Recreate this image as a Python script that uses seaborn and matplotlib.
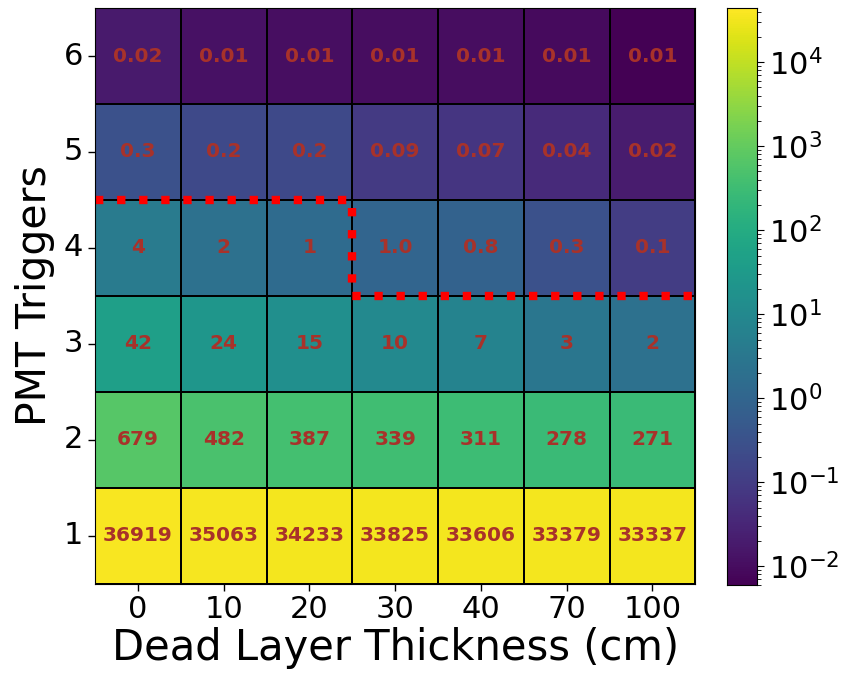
import numpy as np
import pandas as pd
import matplotlib
matplotlib.use("Agg")
import matplotlib.pyplot as plt
import seaborn as sns
from matplotlib.colors import LogNorm

# Data
thickness = ["0", "10", "20", "30", "40", "70", "100"]
triggers = ["6", "5", "4", "3", "2", "1"]

row6 = [0.018, 0.012, 0.011, 0.010, 0.010, 0.009, 0.006]
row5 = [0.3, 0.2, 0.2, 0.09, 0.07, 0.04, 0.02]
row4 = [4, 2, 1.4, 1.0, 0.8, 0.3, 0.1]
row3 = [42, 24, 15, 10, 7, 3, 2]
row2 = [679, 482, 387, 339, 311, 278, 271]
row1 = [36919, 35063, 34233, 33825, 33606, 33379, 33337]

labels6 = ["0.02", "0.01", "0.01", "0.01", "0.01", "0.01", "0.01"]
labels5 = ["0.3", "0.2", "0.2", "0.09", "0.07", "0.04", "0.02"]
labels4 = ["4", "2", "1", "1.0", "0.8", "0.3", "0.1"]
labels3 = ["42", "24", "15", "10", "7", "3", "2"]
labels2 = ["679", "482", "387", "339", "311", "278", "271"]
labels1 = ["36919", "35063", "34233", "33825", "33606", "33379", "33337"]

# lowest trigger count kept above the red cut line, per column
cut_trigger = [5, 5, 5, 4, 4, 4, 4]

vmin, vmax = 0.006, 44000

values = pd.DataFrame([row6, row5, row4, row3, row2, row1], index=triggers, columns=thickness)
annot = np.array([labels6, labels5, labels4, labels3, labels2, labels1])

fig = plt.figure(figsize=(8.48, 6.77), dpi=100)
ax = fig.add_axes([0.112, 0.138, 0.708, 0.850])
cax = fig.add_axes([0.857, 0.136, 0.036, 0.852])

sns.heatmap(values, ax=ax, cbar_ax=cax, cmap="viridis",
            norm=LogNorm(vmin=vmin, vmax=vmax),
            annot=annot, fmt="",
            annot_kws={"color": "#a8322a", "fontsize": 14.5, "fontweight": "bold"},
            linewidths=1.3, linecolor="black")

# red dotted cut line
row_pos = [triggers.index(str(t)) + 1 for t in cut_trigger]
xs, ys = [], []
for i, r in enumerate(row_pos):
    xs += [i, i + 1]
    ys += [r, r]
ax.plot(xs, ys, color="red", linestyle=":", linewidth=6, clip_on=False)

ax.set_xlabel("Dead Layer Thickness (cm)", fontsize=30, labelpad=2)
ax.set_ylabel("PMT Triggers", fontsize=29.5, labelpad=6)
ax.tick_params(axis="both", labelsize=22, length=5, width=1, color="black", left=True, bottom=True)
ax.set_xticklabels(thickness, rotation=0)
ax.set_yticklabels(triggers, rotation=0)
for s in ax.spines.values():
    s.set_visible(True)
    s.set_color("black")

cax.tick_params(labelsize=22, which="major", length=5)
cax.tick_params(which="minor", length=3)
cax.xaxis.set_visible(False)
for s in cax.spines.values():
    s.set_visible(True)
    s.set_color("black")

fig.savefig("out.png", dpi=100)
